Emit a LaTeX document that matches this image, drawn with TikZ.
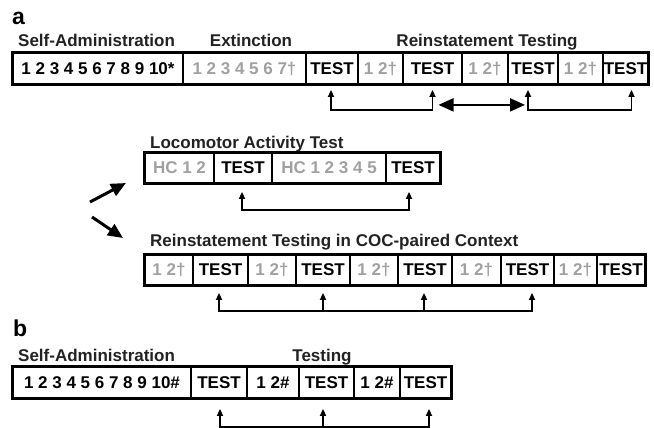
\documentclass[tikz,border=0pt]{standalone}
\usepackage{fontspec}
\setmainfont{Liberation Sans}
\usetikzlibrary{arrows.meta}
\definecolor{lightgray}{HTML}{A0A0A0}
\definecolor{labelblack}{HTML}{222222}
\begin{document}
\begin{tikzpicture}[x=1pt,y=-1pt,
  cell/.style={draw, line width=1.8pt, inner sep=0pt, font=\bfseries\fontsize{17}{19}\selectfont},
  rowA/.style={cell, minimum height=31pt},
  rowB/.style={cell, minimum height=30pt},
  grayt/.style={text=lightgray},
  outer/.style={draw, line width=3pt},
  lbl/.style={inner sep=0pt, font=\bfseries\fontsize{17}{19}\selectfont, text=labelblack},
  panel/.style={inner sep=0pt, font=\bfseries\fontsize{23}{25}\selectfont},
  conn/.style={line width=1.6pt, {Triangle[width=6pt,length=7pt]}-{Triangle[width=6pt,length=7pt]}},
  upar/.style={line width=1.6pt, -{Triangle[width=6pt,length=7pt]}},
  dbl/.style={line width=2pt, {Triangle[width=13pt,length=15pt]}-{Triangle[width=13pt,length=15pt]}},
  diag/.style={line width=3pt, -{Triangle[width=13pt,length=15pt]}}
]
\useasboundingbox (0,0) rectangle (654,428);

% ---------- panel a ----------
\node[panel, anchor=base west] (pa) at (12,25) {a};
\node[lbl, anchor=base west] (sa1) at (18,47) {Self-Administration};
\node[lbl, anchor=base] (ext) at (251,47) {Extinction};
\node[lbl, anchor=base] (rt) at (487,47) {Reinstatement Testing};

\node[rowA, minimum width=170pt] (c1) at (98,68.5) {1 2 3 4 5 6 7 8 9 10*};
\node[rowA, grayt, minimum width=123pt] (c2) at (244.5,68.5) {1 2 3 4 5 6 7†};
\node[rowA, minimum width=52pt] (c3) at (332,68.5) {TEST};
\node[rowA, grayt, minimum width=45pt] (c4) at (380.5,68.5) {1 2†};
\node[rowA, minimum width=59pt] (c5) at (432.5,68.5) {TEST};
\node[rowA, grayt, minimum width=46pt] (c6) at (485,68.5) {1 2†};
\node[rowA, minimum width=50pt] (c7) at (533,68.5) {TEST};
\node[rowA, grayt, minimum width=45pt] (c8) at (580.5,68.5) {1 2†};
\node[rowA, minimum width=45pt] (c9) at (625.5,68.5) {TEST};
\draw[outer] (c1.north west) rectangle (c9.south east);

\draw[conn] ([xshift=-1pt,yshift=-5pt]c3.south) -- ([xshift=-1pt,yshift=-25pt]c3.south) -| ([yshift=-5pt]c5.south);
\draw[dbl] ([xshift=6pt,yshift=-20pt]c5.south) -- ([xshift=-8pt,yshift=-20pt]c7.south);
\draw[conn] ([xshift=-5pt,yshift=-5pt]c7.south) -- ([xshift=-5pt,yshift=-25pt]c7.south) -| ([xshift=6pt,yshift=-5pt]c9.south);

% ---------- diagonal arrows ----------
\coordinate (d1s) at (90,202);
\coordinate (d1e) at (126,183);
\coordinate (d2s) at (92,217);
\coordinate (d2e) at (123,238);
\draw[diag] (d1s) -- (d1e);
\draw[diag] (d2s) -- (d2e);

% ---------- locomotor ----------
\node[lbl, anchor=base west] (lat) at (150,149) {Locomotor Activity Test};
\node[rowB, grayt, minimum width=69pt] (l1) at (179.5,168) {HC 1 2};
\node[rowB, minimum width=58pt] (l2) at (243,168) {TEST};
\node[rowB, grayt, minimum width=114pt] (l3) at (329,168) {HC 1 2 3 4 5};
\node[rowB, minimum width=54pt] (l4) at (413,168) {TEST};
\draw[outer] (l1.north west) rectangle (l4.south east);
\draw[conn] ([xshift=-1pt,yshift=-8pt]l2.south) -- ([xshift=-1pt,yshift=-26pt]l2.south) -| ([xshift=-4pt,yshift=-8pt]l4.south);

% ---------- reinstatement in COC-paired context ----------
\node[lbl, anchor=base west] (rcoc) at (150,246) {Reinstatement Testing in COC-paired Context};
\node[rowB, grayt, minimum width=48pt] (r1) at (169,270) {1 2†};
\node[rowB, minimum width=55pt] (r2) at (220.5,270) {TEST};
\node[rowB, grayt, minimum width=48pt] (r3) at (272,270) {1 2†};
\node[rowB, minimum width=54pt] (r4) at (323,270) {TEST};
\node[rowB, grayt, minimum width=48pt] (r5) at (374,270) {1 2†};
\node[rowB, minimum width=54pt] (r6) at (425,270) {TEST};
\node[rowB, grayt, minimum width=49pt] (r7) at (476.5,270) {1 2†};
\node[rowB, minimum width=53pt] (r8) at (527.5,270) {TEST};
\node[rowB, grayt, minimum width=43pt] (r9) at (575.5,270) {1 2†};
\node[rowB, minimum width=48pt] (r10) at (621,270) {TEST};
\draw[outer] (r1.north west) rectangle (r10.south east);
\draw[conn] ([xshift=-1.5pt,yshift=-7pt]r2.south) -- ([xshift=-1.5pt,yshift=-25pt]r2.south) -| ([xshift=4.5pt,yshift=-7pt]r8.south);
\coordinate (r4b) at ([yshift=-25pt]r4.south);
\coordinate (r6b) at ([xshift=-1pt,yshift=-25pt]r6.south);
\draw[upar] (r4b) -- ([yshift=-7pt]r4.south);
\draw[upar] (r6b) -- ([xshift=-1pt,yshift=-7pt]r6.south);

% ---------- panel b ----------
\node[panel, anchor=base west] (pb) at (13,336) {b};
\node[lbl, anchor=base west] (sa2) at (18,361) {Self-Administration};
\node[lbl, anchor=base] (tst) at (322,361) {Testing};
\node[rowA, minimum width=178pt] (b1) at (102,382.5) {1 2 3 4 5 6 7 8 9 10\#};
\node[rowA, minimum width=56pt] (b2) at (219,382.5) {TEST};
\node[rowA, minimum width=52pt] (b3) at (273,382.5) {1 2\#};
\node[rowA, minimum width=55pt] (b4) at (326.5,382.5) {TEST};
\node[rowA, minimum width=46pt] (b5) at (377,382.5) {1 2\#};
\node[rowA, minimum width=51pt] (b6) at (425.5,382.5) {TEST};
\draw[outer] (b1.north west) rectangle (b6.south east);
\draw[conn] ([xshift=1pt,yshift=-10pt]b2.south) -- ([xshift=1pt,yshift=-28pt]b2.south) -| ([xshift=3.5pt,yshift=-10pt]b6.south);
\coordinate (b4b) at ([xshift=-3.5pt,yshift=-28pt]b4.south);
\draw[upar] (b4b) -- ([xshift=-3.5pt,yshift=-10pt]b4.south);
\end{tikzpicture}
\end{document}
